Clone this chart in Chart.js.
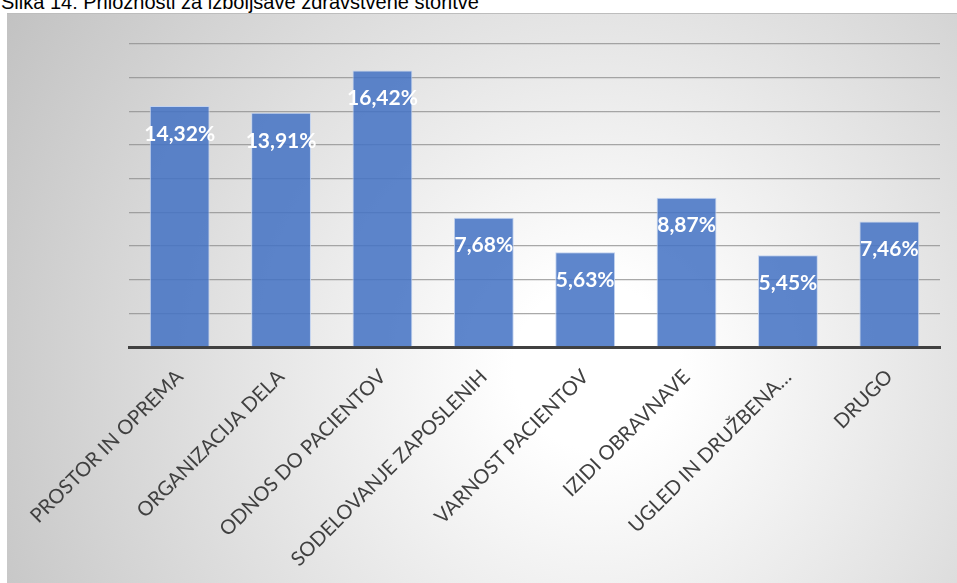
<!DOCTYPE html>
<html>
<head>
<meta charset="utf-8">
<script src="https://cdn.jsdelivr.net/npm/chart.js@4/dist/chart.umd.min.js"></script>
<style>
  html, body { margin: 0; padding: 0; background: #ffffff; width: 957px; height: 583px; overflow: hidden; }
  #title {
    position: absolute; left: 1px; top: -9px;
    font-family: "Liberation Sans", Arial, sans-serif; font-size: 20px; line-height: 22px;
    color: #000000; white-space: nowrap;
  }
  #frame {
    position: absolute; left: 7px; top: 13px; width: 950px; height: 570px;
    background: radial-gradient(circle farthest-corner at 62% 62%, #ffffff 0%, #ffffff 12%, #c2c2c2 100%);
    border-top: 1px solid #bdbdbd;
    box-sizing: border-box;
  }
  #frame canvas { position: absolute; left: 0; top: 0; }
</style>
</head>
<body>
<div id="title">Slika 14: Priložnosti za izboljšave zdravstvene storitve</div>
<div id="frame"><canvas id="chart" width="950" height="570"></canvas></div>
<script>
// Categories and shares (in %) of improvement opportunities
const categories = [
  'PROSTOR IN OPREMA',
  'ORGANIZACIJA DELA',
  'ODNOS DO PACIENTOV',
  'SODELOVANJE ZAPOSLENIH',
  'VARNOST PACIENTOV',
  'IZIDI OBRAVNAVE',
  'UGLED IN DRUŽBENA…',
  'DRUGO'
];
const shares = [14.32, 13.91, 16.42, 7.68, 5.63, 8.87, 5.45, 7.46];
const yMax = 18;
const yStep = 2;

// Writes the value of each bar in white, just below its top
const valueLabels = {
  id: 'valueLabels',
  afterDatasetsDraw(chart) {
    const ctx = chart.ctx;
    const meta = chart.getDatasetMeta(0);
    ctx.save();
    ctx.font = 'bold 21px Lato, "Open Sans", sans-serif';
    ctx.fillStyle = '#ffffff';
    ctx.textAlign = 'center';
    ctx.textBaseline = 'middle';
    meta.data.forEach((bar, i) => {
      const v = chart.data.datasets[0].data[i];
      const txt = v.toFixed(2).replace('.', ',') + '%';
      ctx.fillText(txt, bar.x, bar.y + 28);
    });
    ctx.restore();
  }
};

new Chart(document.getElementById('chart'), {
  type: 'bar',
  data: {
    labels: categories,
    datasets: [{
      data: shares,
      backgroundColor: 'rgba(68,114,196,0.86)',
      borderColor: '#c3d3ef',
      borderWidth: 1,
      barPercentage: 0.59,
      categoryPercentage: 1.0
    }]
  },
  options: {
    responsive: false,
    animation: false,
    layout: { padding: { left: 122, right: 17, top: 30, bottom: 0 } },
    plugins: { legend: { display: false }, tooltip: { enabled: false } },
    scales: {
      x: {
        z: 1,
        grid: { display: false, drawTicks: false },
        border: { display: true, color: '#404040', width: 3 },
        ticks: {
          color: '#404040',
          font: { family: 'Lato, "Open Sans", sans-serif', size: 20 },
          minRotation: 45, maxRotation: 45,
          autoSkip: false,
          padding: 18
        },
        afterFit(scale) { scale.height = 237; }
      },
      y: {
        min: 0, max: yMax,
        ticks: { display: false, stepSize: yStep },
        border: { display: false },
        grid: { color: 'rgba(140,140,140,0.75)', lineWidth: 1.3, drawTicks: false },
        afterFit(scale) { scale.width = 0; }
      }
    }
  },
  plugins: [valueLabels]
});
</script>
</body>
</html>
